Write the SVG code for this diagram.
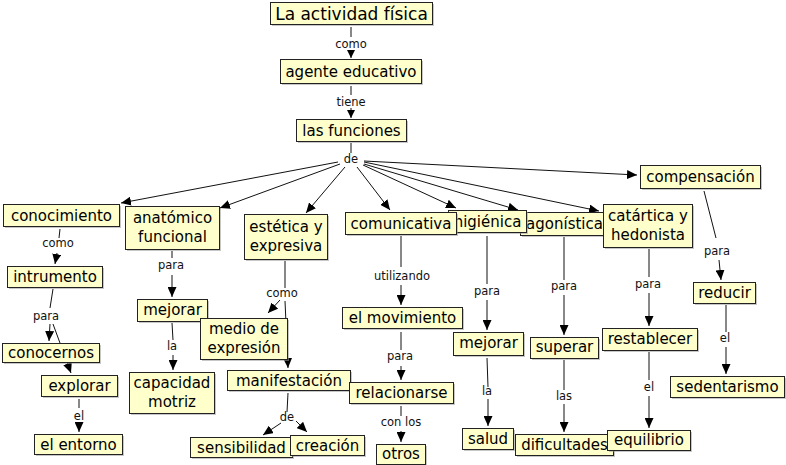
<svg xmlns="http://www.w3.org/2000/svg" width="786" height="465" viewBox="0 0 786 465">
<style>
.n rect.b{fill:#ffffcc;stroke:#222;stroke-width:1}
.n rect.s{fill:#999;opacity:0.55}
.n text{font-family:"DejaVu Sans",Verdana,sans-serif;font-size:15px;fill:#000;text-anchor:middle}
.c path{fill:none;stroke:#111;stroke-width:1}
.c path.a{marker-end:url(#ah)}
.c path.t{marker-end:url(#as)}
.l text{font-family:"DejaVu Sans",Verdana,sans-serif;font-size:11.5px;fill:#111;text-anchor:middle}
</style>
<defs>
<marker id="ah" viewBox="0 0 10 9" refX="10" refY="4.5" markerWidth="10" markerHeight="9" markerUnits="userSpaceOnUse" orient="auto"><path d="M0,0 L10,4.5 L0,9 z" fill="#000"/></marker>
<marker id="as" viewBox="0 0 8 8" refX="8" refY="4" markerWidth="8" markerHeight="8" markerUnits="userSpaceOnUse" orient="auto"><path d="M0,0 L8,4 L0,8 z" fill="#000"/></marker>
</defs>
<rect width="786" height="465" fill="#fff"/>
<g id="connectors" class="c">
<path d="M351,27 L351,37"/><path class="t" d="M351,50 L351,58"/>
<path d="M351,86 L351,95"/><path class="t" d="M351,108 L351,118"/>
<path d="M351,143 L351,153"/>
<path class="a" d="M338,162 L121,203"/>
<path class="a" d="M340,164 L220,208"/>
<path class="a" d="M345,167 L306,213"/>
<path class="a" d="M357,167 L390,210"/>
<path class="a" d="M363,165 L456,208"/>
<path class="a" d="M364,164 L518,210"/>
<path class="a" d="M364,162 L599,211"/>
<path class="a" d="M364,161 L637,175"/>
<path d="M60,229 L59,238"/><path class="a" d="M57,253 L55,264"/>
<path d="M53,289 L50,308"/><path class="a" d="M50,324 L49,341"/>
<path class="a" d="M53,324 L71,373"/>
<path d="M79,399 L79,408"/><path class="a" d="M79,423 L79,432"/>
<path d="M172,251 L172,258"/><path class="a" d="M172,275 L172,297"/>
<path d="M172,323 L173,340"/><path class="a" d="M173,355 L173,370"/>
<path d="M285,261 L285,288"/>
<path class="a" d="M280,300 L268,313"/>
<path class="a" d="M285,301 L288,368"/>
<path d="M288,393 L287,412"/>
<path class="a" d="M281,423 L263,435"/>
<path class="a" d="M296,421 L307,432"/>
<path d="M401,236 L401,267"/><path class="a" d="M401,285 L401,305"/>
<path d="M401,332 L401,350"/><path class="a" d="M401,366 L401,380"/>
<path d="M401,406 L401,416"/><path class="a" d="M401,431 L401,442"/>
<path d="M487,236 L487,284"/><path class="a" d="M487,300 L487,330"/>
<path d="M487,358 L488,387"/><path class="a" d="M488,399 L488,426"/>
<path d="M564,237 L564,280"/><path class="a" d="M564,295 L564,335"/>
<path d="M564,360 L564,390"/><path class="a" d="M564,404 L564,432"/>
<path d="M649,249 L649,277"/><path class="a" d="M649,293 L649,326"/>
<path d="M649,352 L649,380"/><path class="a" d="M649,396 L649,428"/>
<path d="M704,191 L716,238"/><path class="a" d="M719,260 L721,280"/>
<path d="M726,305 L726,332"/><path class="a" d="M726,347 L726,374"/>
</g>
<g id="labels" class="l">
<text x="351" y="48">como</text>
<text x="351" y="106">tiene</text>
<text x="351" y="163">de</text>
<text x="58" y="247">como</text>
<text x="46" y="320">para</text>
<text x="79" y="420">el</text>
<text x="171" y="269">para</text>
<text x="172" y="350">la</text>
<text x="282" y="297">como</text>
<text x="287" y="421">de</text>
<text x="402" y="280">utilizando</text>
<text x="400" y="360">para</text>
<text x="401" y="426">con los</text>
<text x="487" y="295">para</text>
<text x="487" y="395">la</text>
<text x="564" y="290">para</text>
<text x="564" y="400">las</text>
<text x="648" y="288">para</text>
<text x="649" y="391">el</text>
<text x="717" y="255">para</text>
<text x="725" y="342">el</text>
</g>
<g id="n-actividad" class="n"><rect class="s" x="272" y="4" width="162" height="22"/><rect class="b" x="270.5" y="2.5" width="162" height="22"/><text x="351.5" y="19.5" style="font-size:17px">La actividad física</text></g>
<g id="n-agente" class="n"><rect class="s" x="282" y="61" width="141" height="24"/><rect class="b" x="280.5" y="59.5" width="141" height="24"/><text x="351" y="76.5">agente educativo</text></g>
<g id="n-funciones" class="n"><rect class="s" x="298" y="121" width="110" height="22"/><rect class="b" x="296.5" y="119.5" width="110" height="22"/><text x="351.5" y="135.5">las funciones</text></g>
<g id="n-conocimiento" class="n"><rect class="s" x="5" y="206" width="116" height="22"/><rect class="b" x="3.5" y="204.5" width="116" height="22"/><text x="61.5" y="220.5">conocimiento</text></g>
<g id="n-anatomico" class="n"><rect class="s" x="127" y="208" width="94" height="43"/><rect class="b" x="125.5" y="206.5" width="94" height="43"/><text x="172.5" y="223">anatómico</text><text x="172.5" y="242">funcional</text></g>
<g id="n-estetica" class="n"><rect class="s" x="246" y="216" width="83" height="45"/><rect class="b" x="244.5" y="214.5" width="83" height="45"/><text x="286" y="232">estética y</text><text x="286" y="251">expresiva</text></g>
<g id="n-agonistica" class="n"><rect class="s" x="522" y="214" width="88" height="23"/><rect class="b" x="520.5" y="212.5" width="88" height="23"/><text x="564.5" y="228.5">agonística</text></g>
<g id="n-higienica" class="n"><rect class="s" x="450" y="212" width="78" height="22"/><rect class="b" x="448.5" y="210.5" width="78" height="22"/><text x="487.5" y="226.5">higiénica</text></g>
<g id="n-comunicativa" class="n"><rect class="s" x="347" y="214" width="111" height="22"/><rect class="b" x="345.5" y="212.5" width="111" height="22"/><text x="401" y="228.5">comunicativa</text></g>
<g id="n-catartica" class="n"><rect class="s" x="605" y="206" width="89" height="43"/><rect class="b" x="603.5" y="204.5" width="89" height="43"/><text x="648" y="221">catártica y</text><text x="648" y="240">hedonista</text></g>
<g id="n-compensacion" class="n"><rect class="s" x="642" y="167" width="120" height="23"/><rect class="b" x="640.5" y="165.5" width="120" height="23"/><text x="700.5" y="182">compensación</text></g>
<g id="n-intrumento" class="n"><rect class="s" x="9" y="268" width="95" height="21"/><rect class="b" x="7.5" y="266.5" width="95" height="21"/><text x="55" y="282">intrumento</text></g>
<g id="n-conocernos" class="n"><rect class="s" x="4" y="345" width="97" height="19"/><rect class="b" x="2.5" y="343.5" width="97" height="19"/><text x="51" y="357.5">conocernos</text></g>
<g id="n-explorar" class="n"><rect class="s" x="43" y="377" width="76" height="21"/><rect class="b" x="41.5" y="375.5" width="76" height="21"/><text x="79.5" y="391">explorar</text></g>
<g id="n-entorno" class="n"><rect class="s" x="36" y="436" width="88" height="20"/><rect class="b" x="34.5" y="434.5" width="88" height="20"/><text x="78.5" y="449.5">el entorno</text></g>
<g id="n-mejorar1" class="n"><rect class="s" x="139" y="301" width="70" height="22"/><rect class="b" x="137.5" y="299.5" width="70" height="22"/><text x="172.5" y="315">mejorar</text></g>
<g id="n-capacidad" class="n"><rect class="s" x="131" y="374" width="85" height="41"/><rect class="b" x="129.5" y="372.5" width="85" height="41"/><text x="172" y="388">capacidad</text><text x="172" y="407">motriz</text></g>
<g id="n-medio" class="n"><rect class="s" x="202" y="320" width="87" height="41"/><rect class="b" x="200.5" y="318.5" width="87" height="41"/><text x="244" y="334">medio de</text><text x="244" y="353">expresión</text></g>
<g id="n-manifestacion" class="n"><rect class="s" x="229" y="372" width="123" height="20"/><rect class="b" x="227.5" y="370.5" width="123" height="20"/><text x="289" y="385.5">manifestación</text></g>
<g id="n-sensibilidad" class="n"><rect class="s" x="192" y="439" width="102" height="20"/><rect class="b" x="190.5" y="437.5" width="102" height="20"/><text x="241.5" y="452.5">sensibilidad</text></g>
<g id="n-creacion" class="n"><rect class="s" x="292" y="437" width="74" height="20"/><rect class="b" x="290.5" y="435.5" width="74" height="20"/><text x="327.5" y="450.5">creación</text></g>
<g id="n-movimiento" class="n"><rect class="s" x="344" y="309" width="120" height="21"/><rect class="b" x="342.5" y="307.5" width="120" height="21"/><text x="402.5" y="323">el movimiento</text></g>
<g id="n-relacionarse" class="n"><rect class="s" x="351" y="384" width="104" height="21"/><rect class="b" x="349.5" y="382.5" width="104" height="21"/><text x="401.5" y="397.5">relacionarse</text></g>
<g id="n-otros" class="n"><rect class="s" x="378" y="446" width="49" height="20"/><rect class="b" x="376.5" y="444.5" width="49" height="20"/><text x="401" y="459">otros</text></g>
<g id="n-mejorar2" class="n"><rect class="s" x="455" y="334" width="70" height="23"/><rect class="b" x="453.5" y="332.5" width="70" height="23"/><text x="488.5" y="348">mejorar</text></g>
<g id="n-salud" class="n"><rect class="s" x="464" y="430" width="51" height="21"/><rect class="b" x="462.5" y="428.5" width="51" height="21"/><text x="488" y="444">salud</text></g>
<g id="n-superar" class="n"><rect class="s" x="532" y="339" width="68" height="21"/><rect class="b" x="530.5" y="337.5" width="68" height="21"/><text x="564.5" y="352">superar</text></g>
<g id="n-dificultades" class="n"><rect class="s" x="517" y="436" width="98" height="21"/><rect class="b" x="515.5" y="434.5" width="98" height="21"/><text x="564.5" y="450">dificultades</text></g>
<g id="n-equilibrio" class="n"><rect class="s" x="609" y="432" width="83" height="20"/><rect class="b" x="607.5" y="430.5" width="83" height="20"/><text x="649" y="445">equilibrio</text></g>
<g id="n-restablecer" class="n"><rect class="s" x="604" y="330" width="95" height="22"/><rect class="b" x="602.5" y="328.5" width="95" height="22"/><text x="650" y="344">restablecer</text></g>
<g id="n-reducir" class="n"><rect class="s" x="695" y="284" width="62" height="21"/><rect class="b" x="693.5" y="282.5" width="62" height="21"/><text x="724.5" y="297.5">reducir</text></g>
<g id="n-sedentarismo" class="n"><rect class="s" x="672" y="378" width="114" height="21"/><rect class="b" x="670.5" y="376.5" width="114" height="21"/><text x="727.5" y="391.5">sedentarismo</text></g>
</svg>
